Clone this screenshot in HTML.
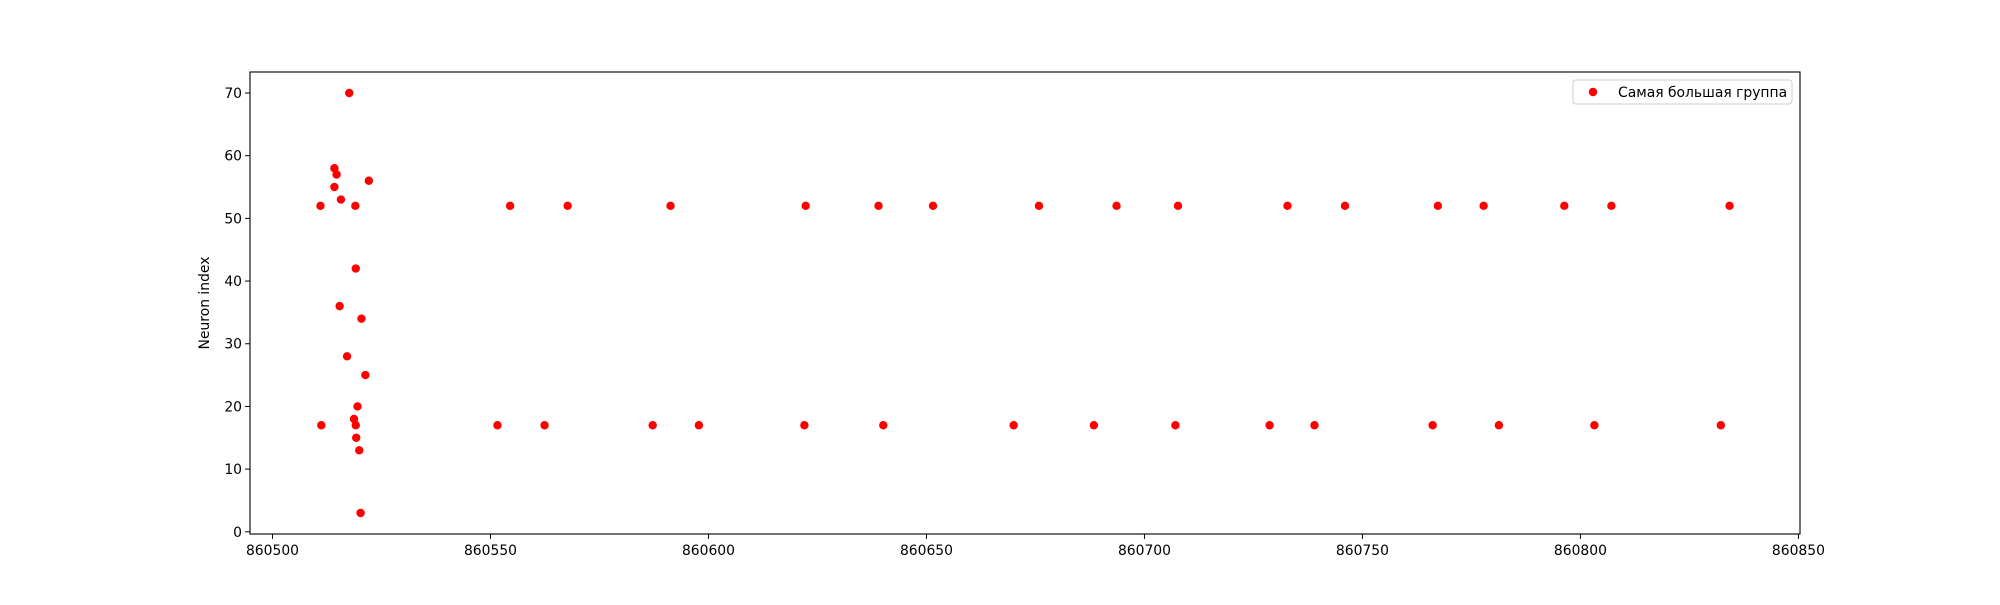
<!DOCTYPE html>
<html><head><meta charset="utf-8"><style>
html,body{margin:0;padding:0;background:#fff;}
svg text{font-family:"DejaVu Sans","Liberation Sans",sans-serif;fill:#000;}
</style></head><body>
<svg id="chart" width="2000" height="600" xmlns="http://www.w3.org/2000/svg">
<rect x="0" y="0" width="2000" height="600" fill="#fff"/>
<g id="ticks"></g>
<g id="points"></g>
<rect x="250" y="72" width="1550" height="462" fill="none" stroke="#000" stroke-width="1.1"/>
<text x="209" y="303" font-size="13.9" text-anchor="middle" transform="rotate(-90 209 303)">Neuron index</text>
<g>
<rect x="1573" y="80" width="219" height="24" rx="3" fill="#fff" fill-opacity="0.8" stroke="#ccc" stroke-width="1"/>
<circle cx="1593" cy="92" r="4.2" fill="#ff0000"/>
<text x="1618" y="97" font-size="13.9">Самая большая группа</text>
</g>
</svg>
<script>
const xValues = [860517.6,860514.2,860514.7,860514.2,860515.7,860511.0,860519.0,860522.1,860519.1,860515.4,860520.4,860517.1,860521.3,860519.5,860518.7,860519.1,860511.2,860519.2,860519.9,860520.2,
860554.5,860567.7,860591.3,860622.3,860639.0,860651.5,860675.8,860693.6,860707.7,860732.8,860746.0,860767.3,860777.8,860796.3,860807.1,860834.2,
860551.6,860562.4,860587.2,860597.8,860622.0,860640.1,860670.0,860688.4,860707.1,860728.7,860739.0,860766.1,860781.3,860803.2,860832.2];
const yValues = [70,58,57,55,53,52,52,56,42,36,34,28,25,20,18,17,17,15,13,3,
52,52,52,52,52,52,52,52,52,52,52,52,52,52,52,52,
17,17,17,17,17,17,17,17,17,17,17,17,17,17,17];
const xTickLabels = [860500,860550,860600,860650,860700,860750,860800,860850];
const yTickLabels = [0,10,20,30,40,50,60,70];

const L=250,R=1800,T=72,B=534;
function extent(a){return [Math.min(...a),Math.max(...a)];}
const [xmin0,xmax0]=extent(xValues),[ymin0,ymax0]=extent(yValues);
const xpad=(xmax0-xmin0)*0.05,ypad=(ymax0-ymin0)*0.05;
const xmin=xmin0-xpad,xmax=xmax0+xpad,ymin=ymin0-ypad,ymax=ymax0+ypad;
function sx(v){return L+(v-xmin)/(xmax-xmin)*(R-L);}
function sy(v){return B-(v-ymin)/(ymax-ymin)*(B-T);}
const NS="http://www.w3.org/2000/svg";
const tg=document.getElementById('ticks'),pg=document.getElementById('points');
xTickLabels.forEach(v=>{
  const x=sx(v); if(x<L-1||x>R+1) return;
  const l=document.createElementNS(NS,'line');
  l.setAttribute('x1',x);l.setAttribute('x2',x);l.setAttribute('y1',B);l.setAttribute('y2',B+4.9);l.setAttribute('stroke','#000');
  
  
  tg.appendChild(l);
  const t=document.createElementNS(NS,'text');
  t.setAttribute('x',x);t.setAttribute('y',B+21);t.setAttribute('font-size','13.9');t.setAttribute('text-anchor','middle');
  t.textContent=v;
  
  
  tg.appendChild(t);
});
yTickLabels.forEach(v=>{
  const y=sy(v);
  const l=document.createElementNS(NS,'line');
  l.setAttribute('x1',L-4.9);l.setAttribute('x2',L);l.setAttribute('y1',y);l.setAttribute('y2',y);l.setAttribute('stroke','#000');
  
  
  tg.appendChild(l);
  const t=document.createElementNS(NS,'text');
  t.setAttribute('x',L-8);t.setAttribute('y',y+5);t.setAttribute('font-size','13.9');t.setAttribute('text-anchor','end');
  t.textContent=v;
  
  
  tg.appendChild(t);
});
xValues.forEach((v,i)=>{
  const c=document.createElementNS(NS,'circle');
  c.setAttribute('cx',sx(v));c.setAttribute('cy',sy(yValues[i]));c.setAttribute('r','4.2');c.setAttribute('fill','#ff0000');
  
  
  pg.appendChild(c);
});
</script>
</body></html>
